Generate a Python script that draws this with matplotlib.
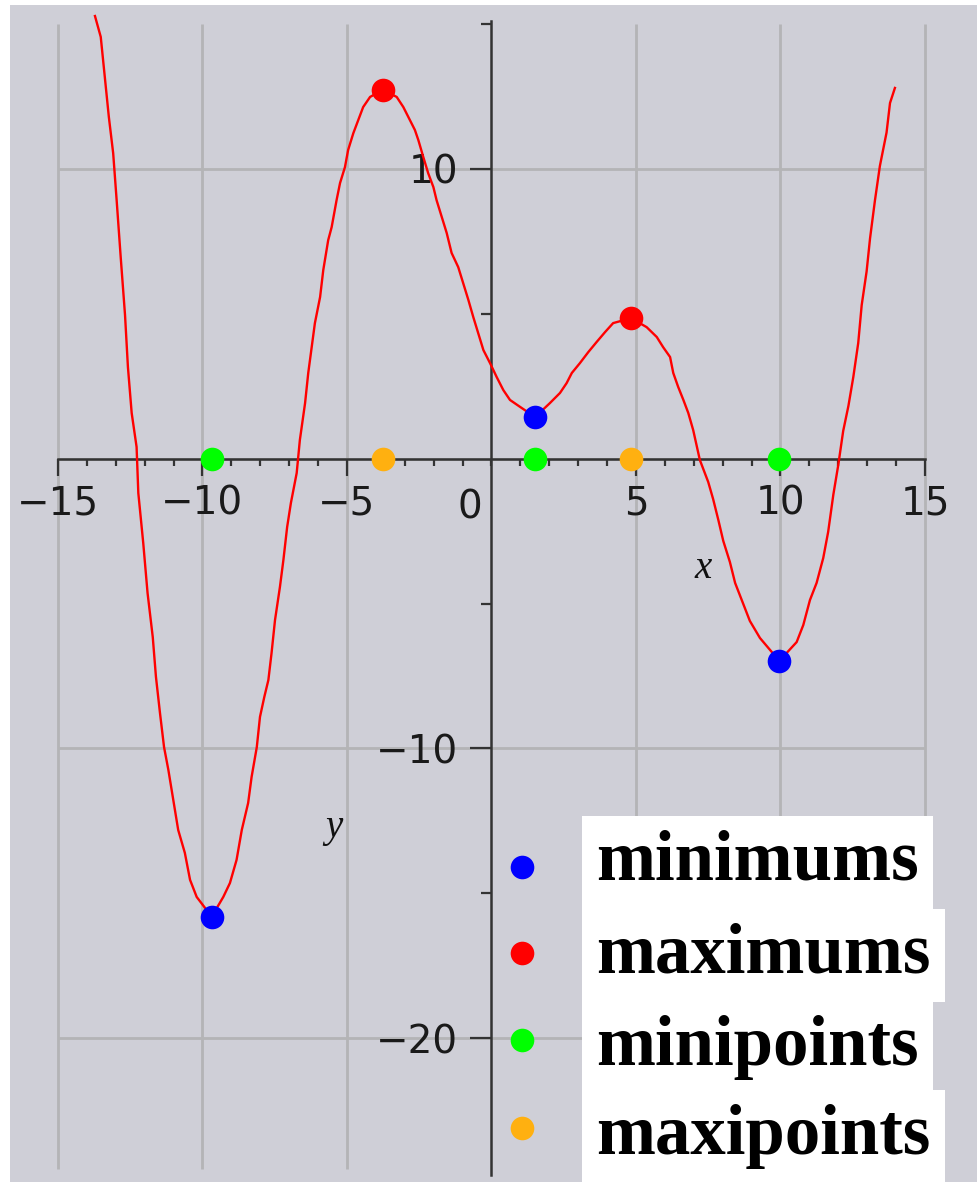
import matplotlib.pyplot as plt
import numpy as np
from matplotlib.ticker import FixedLocator

# sampled points along the plotted function
curve_x = [-13.72, -13.52, -13.37, -13.24, -13.09, -12.97, -12.83, -12.68, -12.58, -12.45,
           -12.28, -12.22, -12.05, -11.90, -11.72, -11.61, -11.47, -11.33, -11.18, -11.01,
           -10.84, -10.61, -10.43, -10.20, -9.68, -9.28, -9.05, -8.82, -8.64, -8.42,
           -8.30, -8.12, -8.01, -7.86, -7.72, -7.61, -7.49, -7.32, -7.20, -7.07,
           -6.94, -6.74, -6.63, -6.45, -6.34, -6.22, -6.11, -5.93, -5.82, -5.65,
           -5.53, -5.36, -5.24, -5.07, -4.96, -4.78, -4.61, -4.44, -4.20, -3.76,
           -3.28, -3.05, -2.82, -2.65, -2.53, -2.36, -2.19, -2.01, -1.90, -1.72,
           -1.55, -1.38, -1.15, -0.98, -0.80, -0.63, -0.46, -0.28, -0.05, 0.18,
           0.41, 0.64, 0.99, 1.51, 2.02, 2.37, 2.60, 2.78, 3.06, 3.35,
           3.64, 3.93, 4.21, 4.83, 5.37, 5.72, 5.94, 6.18, 6.29, 6.46,
           6.64, 6.81, 6.98, 7.21, 7.50, 7.67, 7.85, 8.02, 8.25, 8.43,
           8.66, 8.94, 9.29, 9.96, 10.56, 10.79, 11.02, 11.25, 11.48, 11.65,
           11.83, 12.00, 12.17, 12.35, 12.52, 12.69, 12.81, 12.98, 13.10, 13.27,
           13.44, 13.67, 13.79, 13.96]
curve_y = [15.26, 14.54, 13.05, 11.78, 10.53, 8.91, 6.95, 4.95, 3.16, 1.57,
           0.40, -1.19, -2.91, -4.64, -6.16, -7.53, -8.78, -9.95, -10.74, -11.78,
           -12.81, -13.60, -14.53, -15.12, -15.80, -15.12, -14.64, -13.84, -12.81, -11.88,
           -10.98, -9.95, -8.91, -8.22, -7.64, -6.71, -5.57, -4.43, -3.50, -2.36,
           -1.53, -0.50, 0.64, 1.91, 2.95, 3.84, 4.67, 5.57, 6.50, 7.53,
           7.98, 8.91, 9.50, 10.05, 10.64, 11.22, 11.67, 12.12, 12.47, 12.71,
           12.47, 12.12, 11.67, 11.33, 10.98, 10.40, 9.84, 9.36, 8.91, 8.33,
           7.78, 7.09, 6.60, 6.05, 5.47, 4.88, 4.33, 3.74, 3.29, 2.81,
           2.36, 2.02, 1.78, 1.43, 1.91, 2.26, 2.60, 2.95, 3.29, 3.67,
           4.02, 4.36, 4.67, 4.84, 4.53, 4.19, 3.84, 3.50, 2.95, 2.47,
           2.02, 1.57, 0.98, -0.05, -0.81, -1.40, -2.12, -2.84, -3.57, -4.29,
           -4.88, -5.60, -6.19, -6.98, -6.33, -5.74, -4.88, -4.29, -3.43, -2.53,
           -1.24, -0.22, 0.95, 1.81, 2.81, 3.98, 5.29, 6.45, 7.60, 8.91,
           10.09, 11.24, 12.26, 12.78]

min_x = [-9.68, 1.51, 9.96]
min_y = [-15.80, 1.43, -6.98]
max_x = [-3.76, 4.83]
max_y = [12.71, 4.84]

labels = ['minimums', 'maximums', 'minipoints', 'maxipoints']
colors = ['#0000ff', '#ff0000', '#00ff00', '#ffb010']

xtick_major = [-15, -10, -5, 5, 10, 15]
xtick_labels = ['\u221215', '\u221210', '\u22125', '5', '10', '15']
ytick_major = [-20, -10, 10]
ytick_labels = ['\u221220', '\u221210', '10']
ytick_minor = [-15, -5, 5, 15]

bg = '#cfcfd7'
gridc = '#b4b4b6'
axc = '#333333'
tcol = '#1a1a1a'
tsize = 28

fig = plt.figure(figsize=(9.77, 11.82), dpi=100, facecolor='white')
ax = fig.add_axes([10 / 977, 0, 967 / 977, 1177 / 1182])
ax.set_facecolor(bg)
ax.set_xlim(-16.66, 16.80)
ax.set_ylim(-24.95, 15.64)

# grid
ax.vlines(xtick_major, -24.5, 15.0, colors=gridc, lw=2.0, zorder=0.5)
ax.hlines([10, 0, -10, -20], -15, 15, colors=gridc, lw=2.0, zorder=0.5)

# axes through the origin
for s in ['top', 'right']:
    ax.spines[s].set_visible(False)
ax.spines['bottom'].set_position(('data', 0))
ax.spines['left'].set_position(('data', 0))
ax.spines['bottom'].set_bounds(-15, 15)
ax.spines['left'].set_bounds(-24.7, 15.1)
for s in ['bottom', 'left']:
    ax.spines[s].set_color(axc)
    ax.spines[s].set_linewidth(1.8)

ax.set_xticks(xtick_major)
ax.set_xticklabels(xtick_labels)
ax.xaxis.set_minor_locator(FixedLocator(np.arange(-15, 16)))
ax.set_yticks(ytick_major)
ax.set_yticklabels(ytick_labels)
ax.yaxis.set_minor_locator(FixedLocator(ytick_minor))

ax.tick_params(axis='x', which='major', direction='out', length=12, width=1.6,
               color=axc, pad=7, labelsize=tsize, labelcolor=tcol)
ax.tick_params(axis='x', which='minor', direction='out', length=5, width=1.6, color=axc)
ax.tick_params(axis='y', which='major', direction='out', length=15, width=1.6,
               color=axc, pad=9, labelsize=tsize, labelcolor=tcol)
ax.tick_params(axis='y', which='minor', direction='out', length=7, width=1.6, color=axc)

ax.text(-0.75, -1.05, '0', fontsize=tsize, color=tcol, ha='center', va='top')

ax.text(7.32, -3.78, 'x', family='Liberation Serif', style='italic', fontsize=28,
        ha='center', va='center', color='#111111')
ax.text(-5.45, -12.74, 'y', family='Liberation Serif', style='italic', fontsize=28,
        ha='center', va='center', color='#111111')

# function and its extrema
ax.plot(curve_x, curve_y, color='#ff0000', lw=1.7, zorder=3)
ax.plot(min_x, min_y, 'o', color=colors[0], ms=17, mec='none', zorder=4)
ax.plot(max_x, max_y, 'o', color=colors[1], ms=17, mec='none', zorder=4)
ax.plot(min_x, [0] * len(min_x), 'o', color=colors[2], ms=17, mec='none', zorder=4)
ax.plot(max_x, [0] * len(max_x), 'o', color=colors[3], ms=17, mec='none', zorder=4)

# legend
mark_y = [0.2676, 0.1946, 0.1206, 0.0459]
base_y = [0.2566, 0.1776, 0.0994, 0.0238]
for lab, c, my, by in zip(labels, colors, mark_y, base_y):
    ax.plot([0.5295], [my], 'o', color=c, ms=17, mec='none',
            transform=ax.transAxes, zorder=5, clip_on=False)
    ax.text(0.606, by, lab, transform=ax.transAxes, family='Liberation Serif',
            weight='bold', fontsize=51, va='baseline', ha='left', zorder=5,
            bbox=dict(facecolor='white', edgecolor='none', pad=10))

fig.savefig('out.png', dpi=100, facecolor='white')
plt.close()
